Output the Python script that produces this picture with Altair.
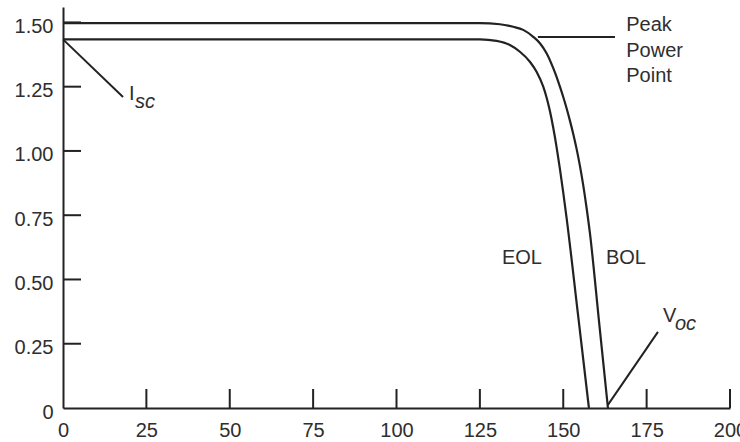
import altair as alt
import pandas as pd

# ---- data ----
bol_volts = [0, 60, 125, 131, 135, 138, 141, 143, 145, 147, 148, 149, 150, 151, 152, 153, 154, 155, 156, 157, 158, 160.7, 163.4]
bol_amps = [1.497, 1.497, 1.497, 1.493, 1.483, 1.471, 1.444, 1.419, 1.380, 1.322, 1.288, 1.250, 1.210, 1.166,
            1.118, 1.066, 1.008, 0.942, 0.866, 0.778, 0.680, 0.340, 0.0]

eol_volts = [0, 60, 125, 130, 134, 137, 140, 142, 144, 145, 146, 147, 148, 149, 150, 151, 154.4, 157.7]
eol_amps = [1.434, 1.434, 1.434, 1.428, 1.412, 1.386, 1.347, 1.308, 1.250, 1.208, 1.155, 1.090, 1.015,
            0.930, 0.838, 0.740, 0.366, 0.0]

x_ticks = [25, 50, 75, 100, 125, 150, 175, 200]
y_ticks = [0.25, 0.5, 0.75, 1.0, 1.25, 1.5]

# leader lines (start/end in data units)
lead_x = [0, 142.4, 163.4]
lead_y = [1.434, 1.443, 0.012]
lead_x2 = [18.0, 165.5, 178.4]
lead_y2 = [1.210, 1.443, 0.296]

# labels
lab_text = ["Peak", "Power", "Point", "I", "EOL", "BOL", "V"]
lab_x = [168.9, 168.9, 168.9, 19.8, 131.6, 162.8, 179.9]
lab_y = [1.467, 1.366, 1.268, 1.198, 0.560, 0.560, 0.335]

sub_text = ["sc", "oc"]
sub_x = [21.6, 183.5]
sub_y = [1.167, 0.303]

# ---- tables ----
curves = pd.concat([
    pd.DataFrame({"V": bol_volts, "I": bol_amps, "s": "BOL"}),
    pd.DataFrame({"V": eol_volts, "I": eol_amps, "s": "EOL"}),
])
leads = pd.DataFrame({"x": lead_x, "y": lead_y, "x2": lead_x2, "y2": lead_y2})
labels = pd.DataFrame({"t": lab_text, "x": lab_x, "y": lab_y})
subs = pd.DataFrame({"t": sub_text, "x": sub_x, "y": sub_y})
xt = pd.DataFrame({"v": x_ticks})
yt = pd.DataFrame({"v": y_ticks})

W, H = 667, 401
FONT = "Liberation Sans"
INK = "#222222"
TXT = "#2e2e2e"

xs = alt.Scale(domain=[0, 200], nice=False, zero=False)
ys = alt.Scale(domain=[0, 1.56], nice=False, zero=False)

xaxis = alt.Axis(values=x_ticks + [0], format="d", ticks=False, tickSize=0, grid=False,
                 domainColor=INK, domainWidth=2, labelFont=FONT, labelFontSize=20,
                 labelColor=TXT, labelPadding=12, title=None, labelFlush=False,
                 labelOverlap=False, labelBound=False)
yaxis = alt.Axis(values=[0] + y_ticks, ticks=False, tickSize=0, grid=False,
                 domainColor=INK, domainWidth=2, labelFont=FONT, labelFontSize=20,
                 labelColor=TXT, labelPadding=10, labelOffset=4, title=None,
                 labelExpr="datum.value == 0 ? '0' : format(datum.value, '.2f')",
                 labelOverlap=False, labelFlush=False)

lines = alt.Chart(curves).mark_line(color=INK, strokeWidth=2.2, interpolate="monotone").encode(
    x=alt.X("V:Q", scale=xs, axis=xaxis),
    y=alt.Y("I:Q", scale=ys, axis=yaxis),
    detail="s:N",
)

xtick_layer = alt.Chart(xt).mark_rule(color=INK, strokeWidth=2).encode(
    x=alt.X("v:Q", scale=xs),
    y=alt.value(H),
    y2=alt.value(H - 19),
)
ytick_layer = alt.Chart(yt).mark_rule(color=INK, strokeWidth=2).encode(
    y=alt.Y("v:Q", scale=ys),
    x=alt.value(0),
    x2=alt.value(18),
)

lead_layer = alt.Chart(leads).mark_rule(color=INK, strokeWidth=2).encode(
    x=alt.X("x:Q", scale=xs),
    y=alt.Y("y:Q", scale=ys),
    x2="x2:Q",
    y2="y2:Q",
)

label_layer = alt.Chart(labels).mark_text(
    font=FONT, fontSize=20, color=TXT, align="left", baseline="alphabetic"
).encode(x=alt.X("x:Q", scale=xs), y=alt.Y("y:Q", scale=ys), text="t:N")

sub_layer = alt.Chart(subs).mark_text(
    font=FONT, fontSize=20, color=TXT, align="left", baseline="alphabetic", fontStyle="italic"
).encode(x=alt.X("x:Q", scale=xs), y=alt.Y("y:Q", scale=ys), text="t:N")

chart = alt.layer(lines, xtick_layer, ytick_layer, lead_layer, label_layer, sub_layer).properties(
    width=W, height=H,
    autosize=alt.AutoSizeParams(type="none"),
    padding={"left": 63, "top": 7, "right": 10, "bottom": 34},
    background="white",
).configure_view(stroke=None)

chart.save("out.html", embed_options={"renderer": "svg", "actions": False})
